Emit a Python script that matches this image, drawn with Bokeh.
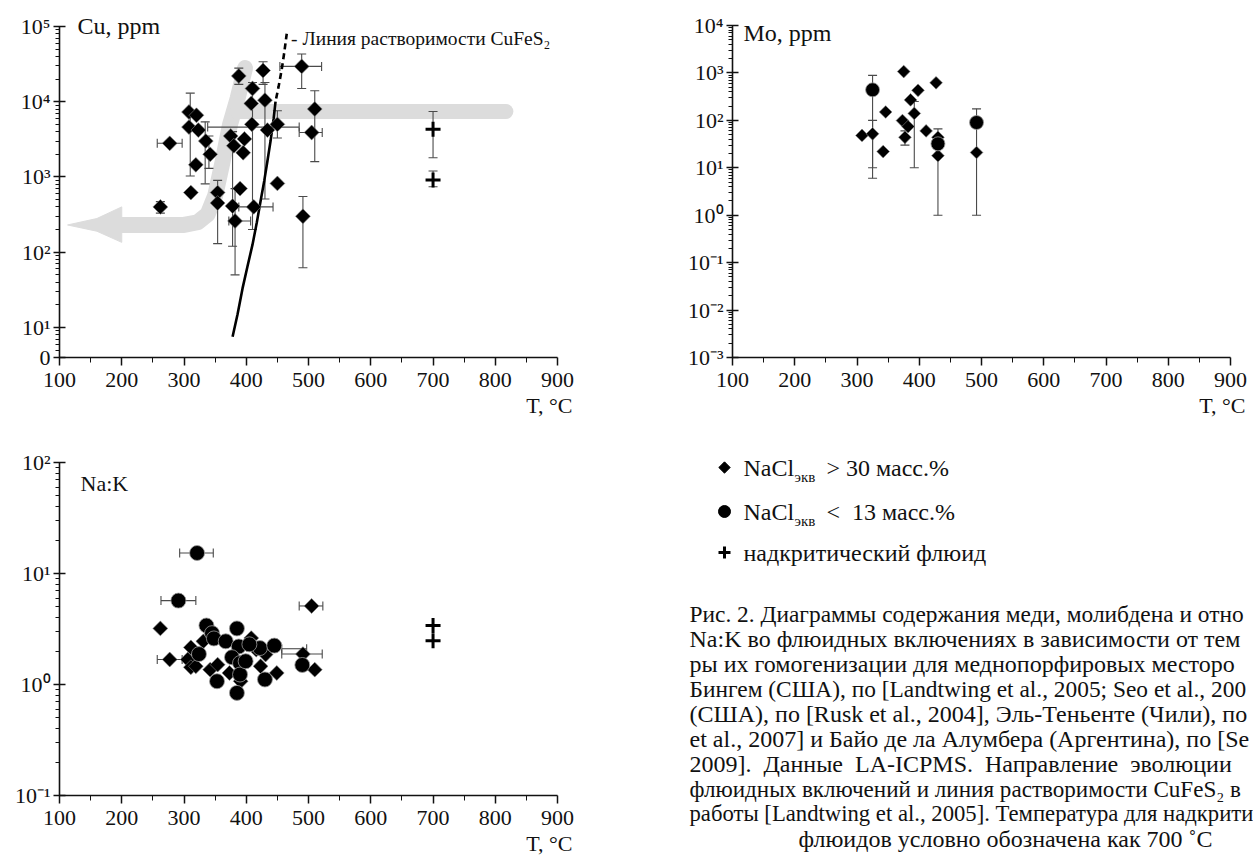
import numpy as np
from bokeh.plotting import figure
from bokeh.models import ColumnDataSource, Whisker, TeeHead, FixedTicker, Label, Range1d, Title
from bokeh.layouts import column, row
from bokeh.embed import file_html
from bokeh.resources import INLINE
from bokeh.core.properties import value

FONT = "Liberation Serif"
NB = "\u00a0"

# ---------------- axes ----------------
T_TICKS = [100, 200, 300, 400, 500, 600, 700, 800, 900]
T_MINOR = [150, 250, 350, 450, 550, 650, 750, 850]
T_LABEL = "T, °C"

CU_TICKS = [10 ** 0.6, 10, 100, 1000, 10000, 100000]
CU_TICK_LABELS = ["0", "10¹", "10²", "10³", "10⁴", "10⁵"]
MO_TICKS = [0.001, 0.01, 0.1, 1, 10, 100, 1000, 10000]
MO_TICK_LABELS = ["10⁻³", "10⁻²", "10⁻¹", "10⁰", "10¹", "10²", "10³", "10⁴"]
NAK_TICKS = [0.1, 1, 10, 100]
NAK_TICK_LABELS = ["10⁻¹", "10⁰", "10¹", "10²"]

# ---------------- Cu, ppm ----------------
cu_dia_T = [262, 277, 308, 308, 311, 320, 323, 319, 335, 342, 354, 354, 375, 380, 378, 382,
            388, 390, 397, 395, 410, 408, 409, 412, 427, 430, 434, 450, 450, 489, 491, 505, 510]
cu_dia_v = [400, 2800, 7300, 4600, 620, 6600, 4200, 1450, 3000, 2000, 620, 450, 3500, 2600, 410, 260,
            22000, 700, 3200, 2100, 15000, 9500, 5000, 400, 26000, 10500, 4200, 820, 5000, 29500, 300, 3900, 8000]
cu_sc_T = [700, 700]
cu_sc_v = [4300, 910]
cu_ev_T = [262, 310, 334, 340, 354, 378, 382, 410, 430, 450, 491, 510, 489, 388, 427, 700, 700]
cu_ev_lo = [330, 1030, 810, 1300, 130, 120, 50, 200, 510, 3300, 62, 1600, 15000, 17000, 17000, 1800, 740]
cu_ev_hi = [470, 13000, 5400, 3500, 900, 4000, 700, 18000, 18000, 7600, 550, 14000, 43000, 28000, 34000, 7400, 1200]
cu_eh_v = [2800, 4600, 3900, 400, 260, 29500]
cu_eh_lo = [257, 338, 485, 388, 372, 454]
cu_eh_hi = [297, 485, 522, 443, 407, 521]

# evolution trend (grey arrow) and CuFeS2 solubility line
evo_T = [200, 300, 322, 338, 350, 362, 374, 386, 398]
evo_v = [230, 230, 250, 320, 560, 1600, 5000, 11000, 28000]
evo_right_T = [385, 817]
evo_right_v = [7400, 7400]
evo_head_T = [113, 160, 200, 200, 160]
evo_head_v = [230, 280, 400, 135, 190]
sol_T = [378, 386, 394, 402, 410, 417, 423, 429, 434, 439, 444, 447]
sol_v = [7.5, 15, 33, 65, 126, 250, 480, 900, 1630, 3000, 6000, 10000]
sol_dash_T = [448, 452, 457, 461, 465]
sol_dash_v = [11000, 16000, 27000, 45000, 80000]

# ---------------- Mo, ppm ----------------
mo_dia_T = [308, 325, 342, 346, 375, 373, 377, 382, 386, 398, 392, 411, 427, 430, 430, 492]
mo_dia_v = [48, 52, 22, 150, 1070, 99, 44, 74, 270, 430, 140, 60, 620, 44, 18, 21]
mo_cir_T = [325, 430, 492]
mo_cir_v = [440, 32, 90]
mo_ev_T = [325, 325, 377, 392, 430, 492]
mo_ev_lo = [6, 10, 30, 10, 1, 1]
mo_ev_hi = [890, 100, 60, 250, 66, 175]

# ---------------- Na:K ----------------
nak_cir_T = [321, 291, 336, 345, 348, 367, 385, 388, 377, 390, 390, 385, 353, 399, 422, 445, 430, 490, 405, 324]
nak_cir_v = [15.3, 5.7, 3.4, 2.9, 2.6, 2.45, 3.2, 2.2, 1.76, 1.56, 1.23, 0.84, 1.07, 1.62, 2.13, 2.24, 1.11, 1.5, 2.3, 1.88]
nak_dia_T = [262, 277, 311, 306, 311, 319, 331, 342, 354, 373, 391, 408, 416, 423, 431, 449, 491, 505, 510]
nak_dia_v = [3.2, 1.68, 2.16, 1.68, 1.43, 1.46, 2.45, 1.36, 1.51, 1.27, 1.07, 2.62, 2.06, 1.46, 1.86, 1.27, 1.88, 5.1, 1.36]
nak_sc_T = [700, 700]
nak_sc_v = [3.4, 2.48]
nak_eh_v = [15.3, 5.7, 1.68, 5.1, 1.88, 2.1]
nak_eh_lo = [293, 263, 257, 485, 457, 457]
nak_eh_hi = [347, 319, 297, 523, 522, 497]

LEGEND_LABELS = ["> 30 масс.%", "<" + NB + " 13 масс.%", "надкритический флюид"]
CAPTION = [
    "Рис. 2. Диаграммы содержания меди, молибдена и отно",
    "Na:K во флюидных включениях в зависимости от тем",
    "ры их гомогенизации для меднопорфировых месторо",
    "Бингем (США), по [Landtwing et al., 2005; Seo et al., 200",
    "(США), по [Rusk et al., 2004], Эль-Теньенте (Чили), по",
    "et al., 2007] и Байо де ла Алумбера (Аргентина), по [Se",
    "2009]." + NB + " Данные" + NB + " LA-ICPMS." + NB + " Направление" + NB + " эволюции",
    "флюидных включений и линия растворимости CuFeS₂ в",
    "работы [Landtwing et al., 2005]. Температура для надкрити",
    "флюидов условно обозначена как 700 ˚C",
]
CAPTION_SIZES = ["23.4px", "24px", "24px", "23.4px", "24px", "24px", "24px", "23.1px", "22.7px", "24px"]

INK = "#111111"
ERR = "#4a4a4a"
BAND = "#dcdcdc"


def key_str(t):
    return str(t) if isinstance(t, int) else repr(t)


def log_minor(first, e_lo, e_hi):
    m = [k * 10.0 ** (e_lo - 1) for k in range(first, 10)] if first else []
    m += [k * 10.0 ** e for e in range(e_lo, e_hi) for k in range(2, 10)]
    return m


def no_align(p):
    if "frame_align" in p.properties():
        p.frame_align = False


def panel(ticks, labels, minor, y_bounds, y_top, frame_h, left, right, top, bottom):
    # frame is 513 px wide for T = 100..924 (axis drawn 100..900)
    p = figure(x_range=Range1d(100, 924), y_range=Range1d(y_bounds[0], y_top), y_axis_type="log",
               frame_width=513, frame_height=frame_h,
               min_border_left=left, min_border_right=right,
               min_border_top=top, min_border_bottom=bottom,
               output_backend="svg", toolbar_location=None)
    no_align(p)
    p.xgrid.visible = False
    p.ygrid.visible = False
    p.outline_line_color = None
    xa = p.xaxis[0]
    ya = p.yaxis[0]
    xa.bounds = (100, 900)
    ya.bounds = y_bounds
    xa.ticker = FixedTicker(ticks=T_TICKS, minor_ticks=T_MINOR)
    ya.ticker = FixedTicker(ticks=ticks, minor_ticks=minor)
    ov = {}
    for t, lab in zip(ticks, labels):
        ov[t] = lab
        ov[key_str(t)] = lab
    ya.major_label_overrides = ov
    for ax in (xa, ya):
        ax.axis_line_width = 1.6
        ax.axis_line_color = INK
        ax.major_tick_line_width = 1.5
        ax.major_tick_line_color = INK
        ax.minor_tick_line_width = 1.0
        ax.minor_tick_line_color = INK
        ax.major_label_text_font = FONT
        ax.major_label_text_font_size = "22px"
        ax.major_label_text_color = INK
    xa.major_tick_in = 0
    xa.major_tick_out = 8
    xa.minor_tick_in = 0
    xa.minor_tick_out = 5
    xa.major_label_standoff = 7
    ya.major_tick_in = 6
    ya.major_tick_out = 6
    ya.minor_tick_in = 0
    ya.minor_tick_out = 4
    ya.major_label_standoff = 3
    # axis title "T, °C", right-aligned under the end of the axis
    p.add_layout(Title(text=T_LABEL, align="right", text_font=FONT, text_font_size="22px",
                       text_font_style="normal", text_color=INK, standoff=2), "below")
    return p


def vbars(p, T, lo, hi):
    src = ColumnDataSource(dict(base=T, lower=lo, upper=hi))
    p.add_layout(Whisker(source=src, base="base", lower="lower", upper="upper", dimension="height",
                         line_color=ERR, line_width=1.1,
                         upper_head=TeeHead(size=9, line_color=ERR, line_width=1.1),
                         lower_head=TeeHead(size=9, line_color=ERR, line_width=1.1)))


def hbars(p, v, lo, hi):
    src = ColumnDataSource(dict(base=v, lower=lo, upper=hi))
    p.add_layout(Whisker(source=src, base="base", lower="lower", upper="upper", dimension="width",
                         line_color=ERR, line_width=1.1,
                         upper_head=TeeHead(size=9, line_color=ERR, line_width=1.1),
                         lower_head=TeeHead(size=9, line_color=ERR, line_width=1.1)))


def diamonds(p, T, v, size=10.5):
    p.scatter(T, v, marker="square", angle=np.pi / 4, size=size, fill_color="black",
              line_color="#808080", line_width=0.6)


def circles(p, T, v, size=15):
    p.scatter(T, v, marker="circle", size=size, fill_color="black",
              line_color="#9a9a9a", line_width=0.8)


def crosses(p, T, v, size=15):
    p.scatter(T, v, marker="cross", size=size, line_color="black", line_width=3)


def title(p, x, y, text, dx, dy, size="24px"):
    p.add_layout(Label(x=x, y=y, x_offset=dx, y_offset=dy, text=text, text_font=FONT,
                       text_font_size=size, text_color=INK, text_baseline="middle"))


# ---------- Cu panel (frame: x 59..572, y 12..357) ----------
cu = panel(CU_TICKS, CU_TICK_LABELS, log_minor(5, 1, 5), (10 ** 0.6, 10 ** 5), 10 ** 5.186,
           345, 59, 68, 12, 63)
r1 = cu.line(evo_T, evo_v, line_width=16, line_color=BAND, line_cap="round", line_join="round")
r2 = cu.line(evo_right_T, evo_right_v, line_width=15, line_color=BAND, line_cap="round")
r3 = cu.patch(evo_head_T, evo_head_v, fill_color=BAND, line_color=BAND)
for r in (r1, r2, r3):
    r.level = "underlay"
vbars(cu, cu_ev_T, cu_ev_lo, cu_ev_hi)
hbars(cu, cu_eh_v, cu_eh_lo, cu_eh_hi)
cu.line(sol_T, sol_v, line_width=2.6, line_color="black")
cu.line(sol_dash_T, sol_dash_v, line_width=2.6, line_color="black", line_dash="6 4")
diamonds(cu, cu_dia_T, cu_dia_v)
crosses(cu, cu_sc_T, cu_sc_v)
title(cu, 100, 10 ** 5, "Cu,  ppm", 18, 0)
cu.add_layout(Label(x=472, y=10 ** 4.84, text="- Линия растворимости CuFeS₂", text_font=FONT,
                    text_font_size="19.5px", text_color=INK, text_baseline="middle"))

# ---------- Mo panel (frame: x 732..1245, y 12..357) ----------
mo = panel(MO_TICKS, MO_TICK_LABELS, log_minor(0, -3, 4), (0.001, 10000), 10 ** 4.274,
           345, 92, 8, 12, 63)
vbars(mo, mo_ev_T, mo_ev_lo, mo_ev_hi)
diamonds(mo, mo_dia_T, mo_dia_v, size=9)
circles(mo, mo_cir_T, mo_cir_v, size=14)
title(mo, 100, 10000, "Mo,  ppm", 11, -8)

# ---------- Na:K panel (frame: x 59..572, y 462..795) ----------
nak = panel(NAK_TICKS, NAK_TICK_LABELS, log_minor(0, -1, 2), (0.1, 100), 100,
            333, 59, 68, 42, 66)
hbars(nak, nak_eh_v, nak_eh_lo, nak_eh_hi)
diamonds(nak, nak_dia_T, nak_dia_v)
circles(nak, nak_cir_T, nak_cir_v)
crosses(nak, nak_sc_T, nak_sc_v)
title(nak, 100, 100, "Na:K", 21, -21, size="22px")

# ---------- legend + caption (page region x 640..1253, y 420..861) ----------
cap = figure(x_range=Range1d(640, 1253), y_range=Range1d(861, 420), width=613, height=441,
             min_border=0, x_axis_type=None, y_axis_type=None,
             output_backend="svg", toolbar_location=None)
no_align(cap)
cap.outline_line_color = None
cap.grid.visible = False
leg_y = [467, 511, 552]
cap.scatter([724], [leg_y[0]], marker="square", angle=np.pi / 4, size=8, fill_color="black", line_color="black")
cap.scatter([724], [leg_y[1]], marker="circle", size=12, fill_color="black", line_color="black")
cap.scatter([724], [leg_y[2]], marker="cross", size=12, line_color="black", line_width=3)
tf = dict(text_font=value(FONT), text_color=INK, text_baseline="middle")
cap.text(x=[743, 743], y=leg_y[:2], text=["NaCl", "NaCl"], text_font_size=value("24px"), **tf)
cap.text(x=[794, 794], y=[leg_y[0] + 9, leg_y[1] + 9], text=["экв", "экв"], text_font_size=value("15px"), **tf)
cap.text(x=[826, 826, 743], y=leg_y, text=LEGEND_LABELS, text_font_size=value("24px"), **tf)
cap_src = ColumnDataSource(dict(x=[689] * 9 + [798], y=[613 + 25 * i for i in range(len(CAPTION))],
                                text=CAPTION, size=CAPTION_SIZES))
cap.text(x="x", y="y", text="text", text_font_size="size", source=cap_src, **tf)

layout = column(row(cu, mo), row(nak, cap))
open("out.html", "w").write(file_html(layout, INLINE))
